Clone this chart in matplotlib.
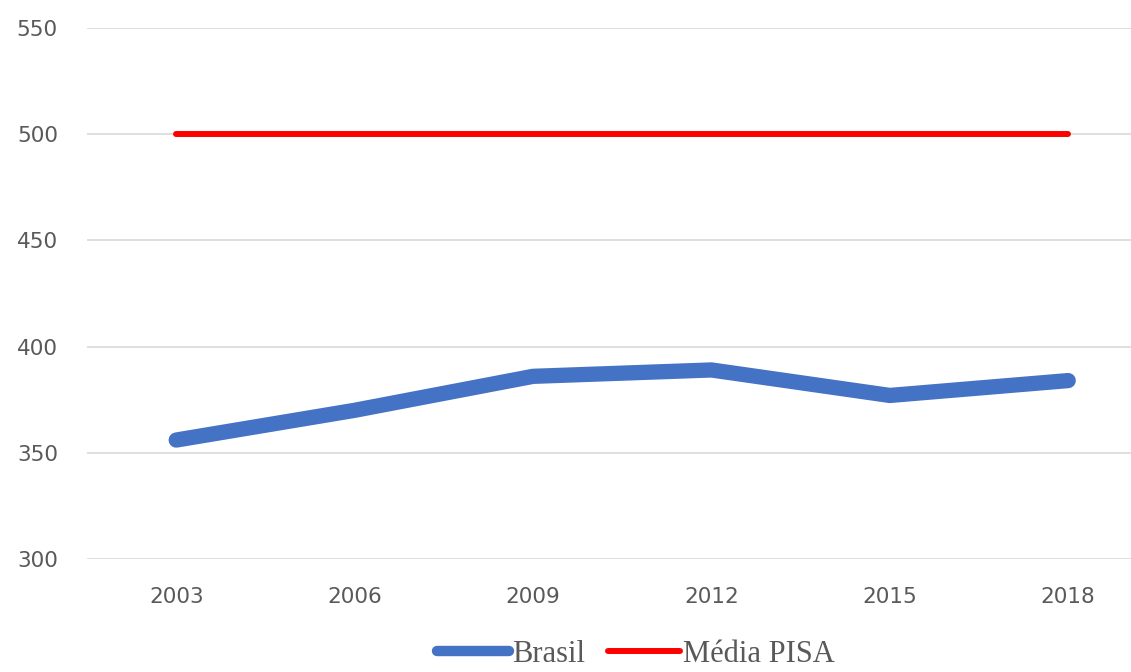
import matplotlib.pyplot as plt
from matplotlib.lines import Line2D

# PISA scores
anos = ['2003', '2006', '2009', '2012', '2015', '2018']
brasil = [356, 370, 386, 389, 377, 384]
media_pisa = [500, 500, 500, 500, 500, 500]

fig = plt.figure(figsize=(11.31, 6.72), dpi=100)
ax = fig.add_axes([87 / 1131, 1 - 559 / 672, 1 - 87 / 1131, (559 - 28) / 672])

x = list(range(len(anos)))
ax.plot(x, brasil, color='#4472C4', lw=11, solid_capstyle='round', label='Brasil')
ax.plot(x, media_pisa, color='#FF0000', lw=4.3, solid_capstyle='round', label='Média PISA')

ax.set_xlim(-0.5, 5.352)
ax.set_ylim(300, 550)
ax.set_yticks([300, 350, 400, 450, 500, 550])
ax.set_xticks(x)
ax.set_xticklabels(anos)
ax.yaxis.grid(True, color='#D9D9D9', lw=1.2)
ax.set_axisbelow(True)
ax.tick_params(length=0, labelsize=15.5, labelcolor='#595959')
ax.tick_params(axis='y', pad=21)
ax.tick_params(axis='x', pad=20)
for s in ax.spines.values():
    s.set_visible(False)

# legend handles a bit thinner than the plotted lines
handles = [Line2D([], [], color='#4472C4', lw=7.5, solid_capstyle='round'),
           Line2D([], [], color='#FF0000', lw=4.3, solid_capstyle='round')]
fig.legend(handles, ['Brasil', 'Média PISA'], loc='center', bbox_to_anchor=(0.562, 1 - 654 / 672),
           ncol=2, frameon=False, prop={'family': 'Liberation Serif', 'size': 22},
           labelcolor='#595959', handlelength=2.35, handletextpad=0.1, columnspacing=0.75,
           borderpad=0.1)

fig.savefig('out.png', dpi=100)
